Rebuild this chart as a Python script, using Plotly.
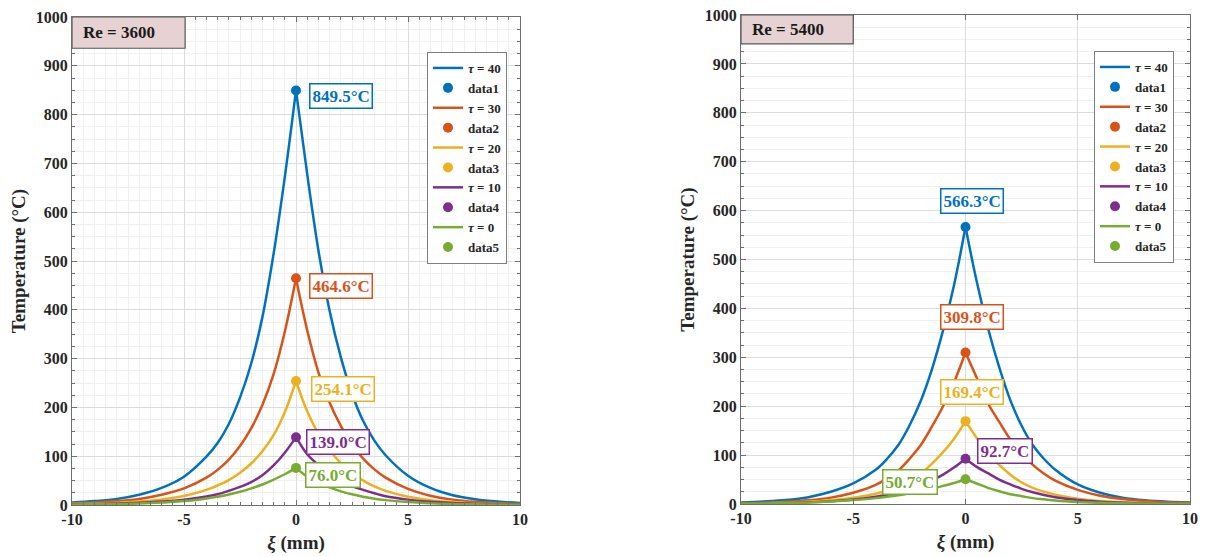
import plotly.graph_objects as go

# ---------------- data ----------------
xi = [-10, -9, -8, -7, -6, -5, -4, -3.5, -3, -2.5, -2, -1.5, -1, -0.5, 0,
      0.5, 1, 1.5, 2, 2.5, 3, 3.5, 4, 5, 6, 7, 8, 9, 10]

tau_labels = ["τ = 40", "τ = 30", "τ = 20", "τ = 10", "τ = 0"]
marker_names = ["data1", "data2", "data3", "data4", "data5"]

# Re = 3600
re3600_tau40 = [5, 8, 12.5, 21, 35, 58, 99, 127, 166, 220, 290, 385, 515, 672, 849.5,
                678, 522, 398, 303, 228, 172, 132, 102, 60, 35, 20, 12, 7, 4]
re3600_tau30 = [3.5, 5, 8, 12.5, 21, 34, 56, 72, 93, 121, 157, 205, 268, 355, 464.6,
                358, 272, 210, 162, 124, 95, 73, 56, 33, 19, 11, 6.5, 4, 2.5]
re3600_tau20 = [2, 3, 4.5, 7, 11.5, 18.5, 31, 40, 51, 66, 85, 110, 143, 190, 254.1,
                192, 146, 112, 86, 66, 50, 38, 29, 17, 10, 6, 3.5, 2, 1.5]
re3600_tau10 = [1.5, 2, 3, 4.5, 7, 11, 17.5, 22, 29, 37, 47, 61, 81, 107, 139.0,
                104, 82, 64, 50, 39, 31, 24, 18, 11, 6.5, 4, 2.5, 1.5, 1]
re3600_tau0 = [1, 1.5, 2, 3, 5, 8, 13.5, 17, 21.5, 27, 34, 42, 52, 63, 76.0,
               58, 46, 36, 28, 22, 17, 13, 10, 6, 3.5, 2, 1.5, 1, 0.5]

# Re = 5400
re5400_tau40 = [3, 5, 8, 14, 25, 42, 70, 92, 120, 160, 210, 275, 355, 450, 566.3,
                455, 360, 280, 212, 160, 120, 92, 70, 40, 23, 13, 7.5, 4.5, 3]
re5400_tau30 = [1.8, 2.8, 4.5, 7.5, 13, 23, 39, 52, 68, 92, 120, 158, 200, 250, 309.8,
                258, 206, 168, 132, 104, 80, 62, 48, 29, 17, 10, 6, 3.5, 2]
re5400_tau20 = [1, 1.7, 2.7, 4.5, 7.5, 13, 21, 27, 35, 46, 62, 82, 106, 134, 169.4,
                135, 104, 80, 60, 44, 33, 25, 19, 11, 6, 3.5, 2, 1.2, 0.8]
re5400_tau10 = [0.8, 1.2, 2, 3.5, 5.5, 9, 15, 19, 24, 30, 38, 48, 60, 75, 92.7,
                76, 63, 50, 40, 31, 24, 18.5, 14, 8, 4.5, 2.7, 1.6, 1, 0.6]
re5400_tau0 = [0.8, 1.2, 2, 3, 5, 8, 12, 15, 18, 21.5, 26, 31, 37, 43, 50.7,
               42, 33, 26, 20, 16, 12, 9.5, 7, 4, 2.5, 1.5, 1, 0.6, 0.4]

peak_3600 = [849.5, 464.6, 254.1, 139.0, 76.0]
peak_5400 = [566.3, 309.8, 169.4, 92.7, 50.7]
peak_labels_3600 = ["849.5°C", "464.6°C", "254.1°C", "139.0°C", "76.0°C"]
peak_labels_5400 = ["566.3°C", "309.8°C", "169.4°C", "92.7°C", "50.7°C"]

x_ticks = [-10, -5, 0, 5, 10]
x_ticktext = ["-10", "-5", "0", "5", "10"]
y_ticks = [0, 100, 200, 300, 400, 500, 600, 700, 800, 900, 1000]

colors = ["#0072BD", "#D95319", "#EDB120", "#7E2F8E", "#77AC30"]

series_3600 = [re3600_tau40, re3600_tau30, re3600_tau20, re3600_tau10, re3600_tau0]
series_5400 = [re5400_tau40, re5400_tau30, re5400_tau20, re5400_tau10, re5400_tau0]

# ---------------- figure ----------------
SERIF = "Liberation Serif"
fig = go.Figure()
i0 = xi.index(0)


def add_panel(series, peaks, xa, ya, legend):
    for k, (ys, pk) in enumerate(zip(series, peaks)):
        name = "<i>τ</i>" + tau_labels[k][1:]
        line = dict(color=colors[k], width=2.5, shape="spline", smoothing=1.0)
        # left branch (shown in legend) and right branch
        fig.add_trace(go.Scatter(x=xi[:i0 + 1], y=ys[:i0 + 1], mode="lines", line=line,
                                 name=name, xaxis=xa, yaxis=ya, legend=legend))
        fig.add_trace(go.Scatter(x=xi[i0:], y=ys[i0:], mode="lines", line=line,
                                 name=name, showlegend=False, xaxis=xa, yaxis=ya))
        fig.add_trace(go.Scatter(x=[xi[i0]], y=[pk], mode="markers",
                                 marker=dict(color=colors[k], size=10),
                                 name=marker_names[k], xaxis=xa, yaxis=ya, legend=legend))


add_panel(series_3600, peak_3600, "x", "y", "legend")
add_panel(series_5400, peak_5400, "x2", "y2", "legend2")

# peak labels
shift_3600 = [(13, -6, "left"), (13, -8, "left"), (15, -8, "left"), (10, -5, "left"), (9, -7, "left")]
shift_5400 = [(6, 26, "center"), (6, 36, "center"), (6, 29, "center"), (11, 8, "left"), (-28, -3, "right")]
for k in range(5):
    for (xr, yr, peaks, labels, shifts) in [("x", "y", peak_3600, peak_labels_3600, shift_3600),
                                            ("x2", "y2", peak_5400, peak_labels_5400, shift_5400)]:
        dx, dy, anc = shifts[k]
        fig.add_annotation(x=0, y=peaks[k], xref=xr, yref=yr, text=labels[k], showarrow=False,
                           xanchor=anc, yanchor="middle", xshift=dx, yshift=dy,
                           font=dict(family=SERIF, size=17, color=colors[k], weight="bold"),
                           bgcolor="white", bordercolor=colors[k], borderwidth=1.5, borderpad=2)

# Re boxes
for xr, yr, txt, x1, y0 in [("x", "y", "Re = 3600", -4.95, 936), ("x2", "y2", "Re = 5400", -5.0, 941)]:
    fig.add_shape(type="rect", xref=xr, yref=yr, x0=-10, x1=x1, y0=y0, y1=1000,
                  fillcolor="#e6d2d2", line=dict(color="#555555", width=1.2))
    fig.add_annotation(x=-10, y=(y0 + 1000) / 2, xref=xr, yref=yr, text=txt, showarrow=False,
                       xanchor="left", yanchor="middle", xshift=9,
                       font=dict(family=SERIF, size=17, color="#1a1a1a", weight="bold"))

L, R, T, B = 72, 15, 15, 52
W, H = 1205, 557
pw, ph = W - L - R, H - T - B


def px_x(p):
    return (p - L) / pw


def px_y(p):
    return (H - B - p) / ph


tickfont = dict(family=SERIF, size=16, color="#262626", weight="bold")
titlefont = dict(family=SERIF, size=19, color="#262626", weight="bold")
axis_common = dict(showline=True, linecolor="#6e6e6e", linewidth=1.2, mirror="ticks",
                   ticks="inside", ticklen=5, tickcolor="#6e6e6e", zeroline=False,
                   showgrid=True, gridcolor="#dcdcdc", gridwidth=1, tickfont=tickfont,
                   automargin=False)
minor_y = dict(dtick=25, tick0=0, ticks="inside", ticklen=3, tickcolor="#6e6e6e",
               showgrid=True, gridcolor="#f0f0f0")

fig.update_layout(
    width=W, height=H, margin=dict(l=L, r=R, t=T, b=B, autoexpand=False),
    paper_bgcolor="white", plot_bgcolor="white", showlegend=True,
    xaxis=dict(domain=[0, px_x(520)], range=[-10, 10], tickvals=x_ticks, ticktext=x_ticktext,
               anchor="y",
               minor=dict(dtick=0.5, tick0=0, ticks="inside", ticklen=3, tickcolor="#6e6e6e",
                          showgrid=True, gridcolor="#f0f0f0"),
               title=dict(text="<i>ξ</i> (mm)", font=titlefont, standoff=8), **axis_common),
    yaxis=dict(domain=[px_y(505), px_y(17)], range=[0, 1000], tickvals=y_ticks, anchor="x",
               minor=minor_y,
               title=dict(text="Temperature (°C)", font=titlefont, standoff=5), **axis_common),
    xaxis2=dict(domain=[px_x(741), px_x(1190)], range=[-10, 10], tickvals=x_ticks,
                ticktext=x_ticktext, anchor="y2",
                title=dict(text="<i>ξ</i> (mm)", font=titlefont, standoff=8), **axis_common),
    yaxis2=dict(domain=[px_y(504), px_y(15)], range=[0, 1000], tickvals=y_ticks, anchor="x2",
                minor=minor_y,
                title=dict(text="Temperature (°C)", font=titlefont, standoff=5), **axis_common),
    legend=dict(x=px_x(507), y=px_y(52), xanchor="right", yanchor="top",
                bgcolor="white", bordercolor="#7f7f7f", borderwidth=1,
                font=dict(family=SERIF, size=13, color="#262626", weight="bold"),
                itemwidth=30, tracegroupgap=0),
    legend2=dict(x=px_x(1174), y=px_y(51), xanchor="right", yanchor="top",
                 bgcolor="white", bordercolor="#7f7f7f", borderwidth=1,
                 font=dict(family=SERIF, size=13, color="#262626", weight="bold"),
                 itemwidth=30, tracegroupgap=0),
)

fig.write_html("out.html")
